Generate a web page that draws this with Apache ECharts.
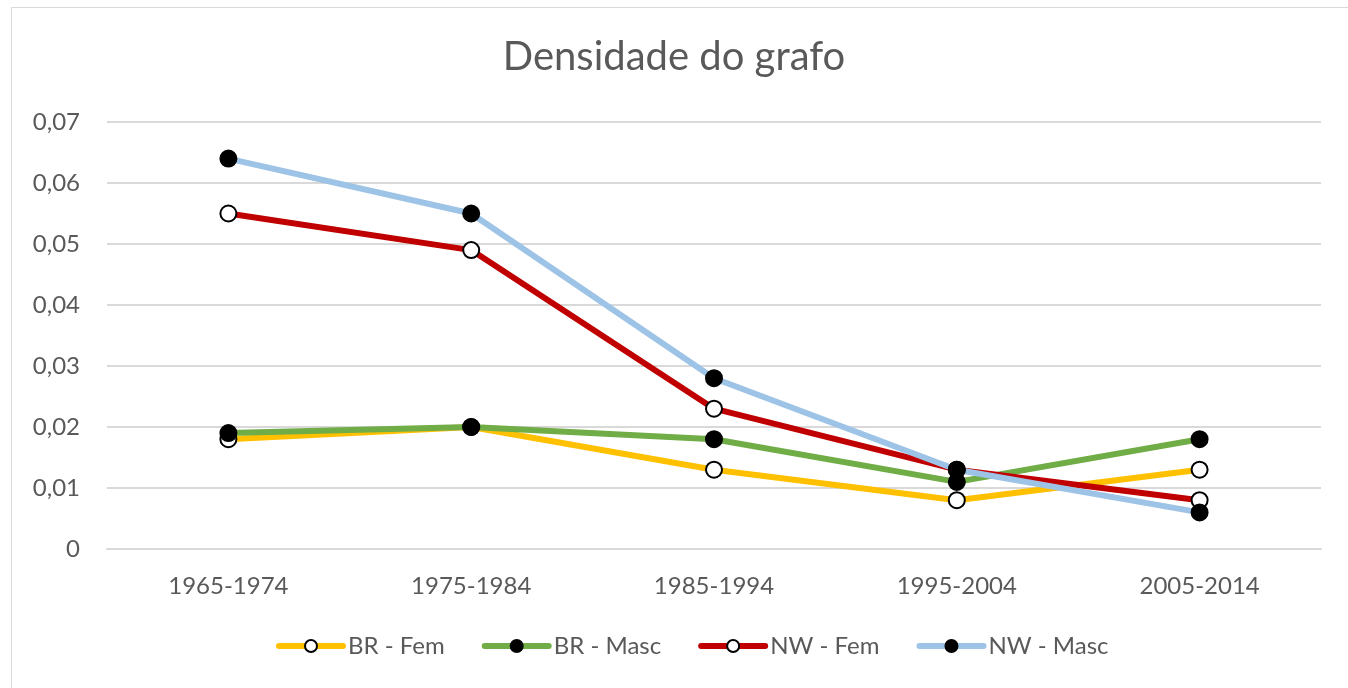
<!DOCTYPE html>
<html>
<head>
<meta charset="utf-8">
<script src="https://cdn.jsdelivr.net/npm/echarts@6/dist/echarts.min.js"></script>
<style>
html, body { margin: 0; padding: 0; background: #fff; }
#chart { width: 1348px; height: 688px; }
</style>
</head>
<body>
<div id="chart"></div>
<script>
// dados
var periodos = ['1965-1974', '1975-1984', '1985-1994', '1995-2004', '2005-2014'];
var brFem  = [0.018, 0.020, 0.013, 0.008, 0.013];
var brMasc = [0.019, 0.020, 0.018, 0.011, 0.018];
var nwFem  = [0.055, 0.049, 0.023, 0.013, 0.008];
var nwMasc = [0.064, 0.055, 0.028, 0.013, 0.006];

var fonte = 'Lato, "Open Sans", sans-serif';

function serie(nome, dados, cor, cheio) {
    return {
        name: nome,
        type: 'line',
        data: dados,
        symbol: 'circle',
        symbolSize: 16,
        lineStyle: { color: cor, width: 6 },
        itemStyle: {
            color: cheio ? '#000' : '#fff',
            borderColor: '#000',
            borderWidth: 2
        },
        emphasis: { disabled: true }
    };
}

var chart = echarts.init(document.getElementById('chart'));
chart.setOption({
    animation: false,
    backgroundColor: '#fff',
    graphic: [{
        type: 'rect',
        shape: { x: 11.5, y: 7.5, width: 1400, height: 700 },
        style: { fill: 'none', stroke: '#d9d9d9', lineWidth: 1 },
        silent: true
    }],
    title: {
        text: 'Densidade do grafo',
        left: 'center',
        top: 32,
        textStyle: { fontFamily: fonte, fontSize: 40, fontWeight: 'normal', color: '#595959' }
    },
    grid: { left: 107, right: 27, top: 122, bottom: 139 },
    legend: {
        bottom: 25,
        left: 271,
        itemWidth: 64,
        itemHeight: 15,
        itemGap: 37,
        lineStyle: { width: 6, cap: 'round' },
        textStyle: { fontFamily: fonte, fontSize: 24, color: '#595959' },
        data: ['BR - Fem', 'BR - Masc', 'NW - Fem', 'NW - Masc']
    },
    xAxis: {
        type: 'category',
        data: periodos,
        boundaryGap: true,
        axisLine: { lineStyle: { color: '#d9d9d9', width: 2 } },
        axisTick: { show: false },
        axisLabel: { fontFamily: fonte, fontSize: 24, color: '#595959', margin: 25 }
    },
    yAxis: {
        type: 'value',
        min: 0,
        max: 0.07,
        interval: 0.01,
        axisLine: { show: false },
        axisTick: { show: false },
        splitLine: { lineStyle: { color: '#d9d9d9', width: 2 } },
        axisLabel: {
            fontFamily: fonte, fontSize: 24, color: '#595959', margin: 27,
            formatter: function (v) {
                return v === 0 ? '0' : v.toFixed(2).replace('.', ',');
            }
        }
    },
    series: [
        serie('BR - Fem', brFem, '#ffc000', false),
        serie('BR - Masc', brMasc, '#70ad47', true),
        serie('NW - Fem', nwFem, '#c00000', false),
        serie('NW - Masc', nwMasc, '#9dc3e6', true)
    ]
});
</script>
</body>
</html>
